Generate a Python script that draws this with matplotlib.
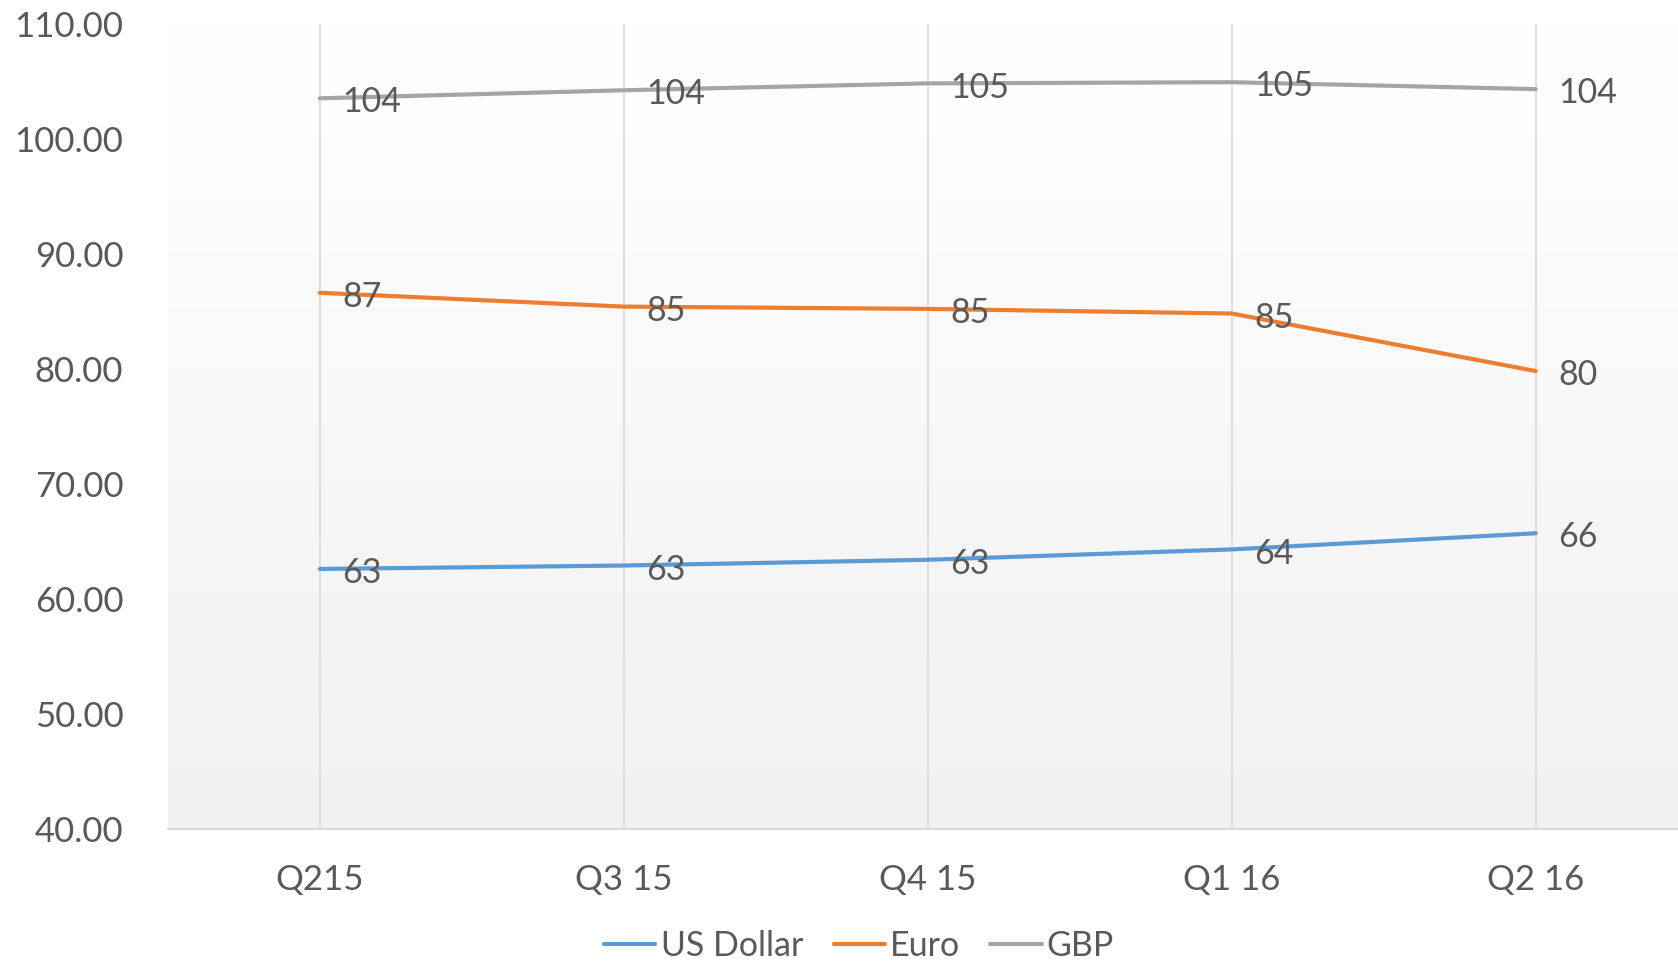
import numpy as np
import matplotlib
matplotlib.use("Agg")
import matplotlib.pyplot as plt

# Chart data
quarters = ["Q215", "Q3 15", "Q4 15", "Q1 16", "Q2 16"]
usd = [62.6, 62.9, 63.4, 64.3, 65.7]
euro = [86.6, 85.4, 85.2, 84.8, 79.8]
gbp = [103.5, 104.2, 104.8, 104.9, 104.3]
series_names = ["US Dollar", "Euro", "GBP"]
series_colors = ["#5b9bd5", "#ed7d31", "#a5a5a5"]
y_ticks = [40, 50, 60, 70, 80, 90, 100, 110]

plt.rcParams["font.family"] = ["Lato", "DejaVu Sans"]
text_color = "#595959"
fs = 24.5

fig = plt.figure(figsize=(16.78, 9.64), dpi=100)
ax = fig.add_axes([0.1, 0.140, 0.9058, 0.8356])

x = np.arange(len(quarters))
ax.set_xlim(-0.5, len(quarters) - 0.5)
ax.set_ylim(40, 110)

# Gradient plot area background (white on top to light gray at bottom)
grad = np.linspace(1.0, 0.0, 256).reshape(-1, 1)
top = np.array([1.0, 1.0, 1.0])
bottom = np.array([0.945, 0.945, 0.945])
img = top * grad[..., None] + bottom * (1 - grad[..., None])
ax.imshow(img, extent=[-0.5, len(quarters) - 0.5, 40, 110], aspect="auto",
          zorder=0, origin="upper")

# Vertical gridlines at each category
for xi in x:
    ax.axvline(xi, color="#d9d9d9", lw=1.2, zorder=1)

for vals, name, col in zip([usd, euro, gbp], series_names, series_colors):
    ax.plot(x, vals, color=col, lw=3.0, label=name, zorder=3,
            solid_capstyle="round")
    for xi, v in zip(x, vals):
        ax.annotate(f"{v:.0f}", (xi, v), xytext=(16, -3),
                    textcoords="offset points", ha="left", va="center",
                    fontsize=fs, color=text_color, zorder=4)

for s in ["top", "right", "left"]:
    ax.spines[s].set_visible(False)
ax.spines["bottom"].set_color("#d9d9d9")
ax.spines["bottom"].set_linewidth(1.5)

ax.set_xticks(x)
ax.set_xticklabels(quarters)
ax.set_yticks(y_ticks)
ax.set_yticklabels([f"{t:.2f}" for t in y_ticks])
ax.tick_params(axis="both", length=0, labelsize=fs + 0.5, labelcolor=text_color)
ax.tick_params(axis="y", pad=32)
ax.tick_params(axis="x", pad=25)

fig.legend(loc="lower center", bbox_to_anchor=(0.512, -0.03), ncol=3,
           frameon=False, fontsize=fs, handlelength=1.5, handletextpad=0.15,
           columnspacing=0.9, labelcolor=text_color)

fig.savefig("out.png", dpi=100)
